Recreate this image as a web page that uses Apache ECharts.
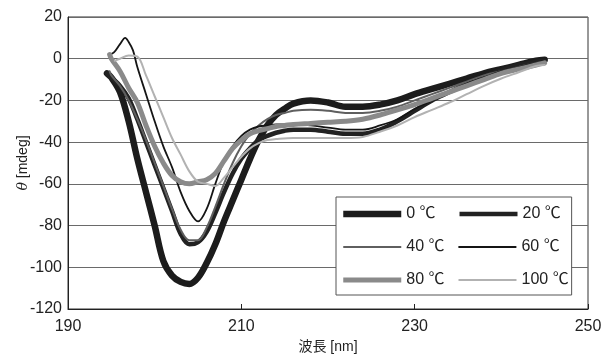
<!DOCTYPE html>
<html>
<head>
<meta charset="utf-8">
<script src="https://cdn.jsdelivr.net/npm/echarts@6/dist/echarts.min.js"></script>
<style>
  html, body { margin: 0; padding: 0; background: #fff; }
  #chart { width: 605px; height: 358px; }
</style>
</head>
<body>
<div id="chart"></div>
<script>
// CD スペクトル（温度別）— 波長 [nm] vs θ [mdeg]
const X_TICKS = [190, 210, 230, 250];
const Y_TICKS = [-120, -100, -80, -60, -40, -20, 0, 20];

// [波長 nm, θ mdeg]
const T0 = [
  [194.5, -7], [195, -9], [196, -16], [197, -30], [198, -48], [199, -64], [200, -80],
  [201, -97], [202, -104], [203, -107], [204, -108], [205, -105], [206, -98], [207, -89],
  [208, -78], [209, -68], [210, -58], [211, -48], [212, -39], [213, -32], [214, -27],
  [215, -24], [216, -21.5], [218, -20], [220, -21], [222, -23], [224, -23], [226, -22],
  [228, -20], [230, -17], [232, -14.5], [234, -12], [236, -9.5], [238, -7], [240, -5],
  [242, -3], [244, -1], [245, -0.5],
];
const T20 = [
  [194.5, -7], [195, -9], [196, -13], [197, -19], [198, -29], [199, -40], [200, -51],
  [201, -62], [202, -73], [203, -84], [204, -89], [205, -88], [206, -83], [207, -74],
  [208, -64], [209, -55], [210, -48], [211, -43], [212, -39], [213, -37], [214, -35.5],
  [215, -34.5], [216, -34], [218, -34], [220, -35], [222, -36], [224, -36], [226, -34],
  [228, -30], [230, -25], [232, -20], [234, -16], [236, -12], [238, -8.5], [240, -5.5],
  [242, -3], [244, -1.5], [245, -1],
];
const T40 = [
  [194.8, -6], [195, -8], [196, -13], [197, -20], [198, -29], [199, -39], [200, -50],
  [201, -61], [202, -72], [203, -82], [204, -87], [205, -87], [206, -81], [207, -71],
  [208, -60], [209, -50], [210, -42], [211, -36], [212, -32], [213, -29], [214, -27],
  [215, -26], [216, -25], [218, -24.5], [220, -25], [222, -26], [224, -26], [226, -25],
  [228, -23], [230, -20], [232, -17], [234, -14], [236, -11], [238, -8], [240, -6],
  [242, -4], [244, -2], [245, -1.5],
];
const T60 = [
  [194.8, 2], [195.3, 3], [196, 7], [196.6, 10], [197, 8], [197.5, 4], [198, -4],
  [199, -17], [200, -30], [201, -42], [202, -52], [203, -64], [204, -73], [205, -78],
  [206, -72], [207, -60], [208, -49], [209, -42], [210, -37], [211, -34], [212, -32.5],
  [213, -32], [214, -31.5], [216, -31.5], [218, -32], [220, -33], [222, -34], [224, -34],
  [226, -32], [228, -29], [230, -24], [232, -20], [234, -16], [236, -12], [238, -9],
  [240, -6], [242, -4], [244, -2], [245, -1.5],
];
const T80 = [
  [194.8, 2], [195, 0], [196, -6], [197, -14], [198, -21], [199, -32], [200, -42],
  [201, -50], [202, -56], [203, -59], [204, -60], [205, -59], [206, -58], [207, -55],
  [208, -49], [209, -43], [210, -39], [211, -36], [212, -34.5], [213, -33.5], [214, -32.5],
  [215, -32], [216, -31.5], [218, -31], [220, -30.5], [222, -30], [224, -29], [226, -27],
  [228, -24.5], [230, -22], [232, -19], [234, -16], [236, -13], [238, -10], [240, -7],
  [242, -5], [244, -3], [245, -2],
];
const T100 = [
  [195.4, -1], [196, 0], [197, 1.5], [198, 1], [199, -8], [200, -18], [201, -28],
  [202, -38], [203, -46], [204, -54], [205, -59], [206, -60], [207, -61], [208, -57],
  [209, -52], [210, -47], [211, -43], [212, -40.5], [213, -39], [214, -38.5], [216, -38],
  [218, -38], [220, -38], [222, -38], [224, -37.5], [226, -35], [228, -32], [230, -28],
  [232, -24.5], [234, -21], [236, -17], [238, -13], [240, -9.5], [242, -6.5], [244, -3.5],
  [245, -3],
];

const SERIES = [
  { name: "0 ℃",   data: T0,   color: "#1c1c1c", width: 6.5 },
  { name: "20 ℃",  data: T20,  color: "#222222", width: 4.5 },
  { name: "40 ℃",  data: T40,  color: "#5f5f5f", width: 2 },
  { name: "60 ℃",  data: T60,  color: "#151515", width: 1.8 },
  { name: "80 ℃",  data: T80,  color: "#8a8a8a", width: 5 },
  { name: "100 ℃", data: T100, color: "#b2b2b2", width: 2 },
];

const FONT = "'Liberation Sans', Arial, 'Noto Sans CJK JP', sans-serif";
const chart = echarts.init(document.getElementById("chart"));

chart.setOption({
  backgroundColor: "#fff", animation: false,
  textStyle: { fontFamily: FONT },
  grid: {
    left: 68, right: 17, top: 17, bottom: 49,
    outerBoundsMode: "none", containLabel: false,
    show: true, borderColor: "#333", borderWidth: 1, backgroundColor: "transparent",
  },
  legend: {
    data: SERIES.map(s => s.name),
    left: 336, top: 197, width: 234,
    orient: "horizontal",
    backgroundColor: "#fff", borderColor: "#555", borderWidth: 1,
    padding: [7, 3, 5, 4],
    itemWidth: 58, itemHeight: 14, itemGap: 13,
    lineStyle: { width: "inherit", cap: "butt" },
    itemStyle: { opacity: 0 },
    textStyle: { fontFamily: FONT, fontSize: 16, color: "#222", width: 38, height: 20, lineHeight: 20 },
  },
  xAxis: {
    type: "value", min: X_TICKS[0], max: X_TICKS[X_TICKS.length - 1], interval: 20,
    name: "波長 [nm]", nameLocation: "middle", nameGap: 31,
    nameTextStyle: { fontFamily: FONT, fontSize: 14, color: "#222" },
    axisLine: { show: true, onZero: false, lineStyle: { color: "#222", width: 1 } },
    axisTick: { show: true, inside: true, length: 5, lineStyle: { color: "#222" } },
    axisLabel: { fontSize: 16, color: "#222", margin: 10, fontFamily: FONT },
    splitLine: { show: false },
  },
  yAxis: {
    type: "value", min: Y_TICKS[0], max: Y_TICKS[Y_TICKS.length - 1], interval: 20,
    name: "{i|θ} [mdeg]", nameLocation: "middle", nameRotate: 90, nameGap: 38,
    nameMoveOverlap: false,
    nameTextStyle: {
      fontFamily: FONT, fontSize: 14, color: "#222",
      rich: { i: { fontStyle: "italic", fontFamily: "'DejaVu Serif', serif", fontSize: 14, color: "#222" } },
    },
    axisLine: { show: true, lineStyle: { color: "#222", width: 1 } },
    axisTick: { show: false },
    axisLabel: { fontSize: 16, color: "#222", margin: 6, fontFamily: FONT },
    splitLine: { show: true, lineStyle: { color: "#6a6a6a", width: 1 } },
  },
  series: SERIES.map(s => ({
    name: s.name, type: "line", data: s.data,
    symbol: "none", smooth: 0.35,
    itemStyle: { color: s.color },
    lineStyle: { color: s.color, width: s.width, join: "round", cap: "round" },
  })),
});
</script>
</body>
</html>
